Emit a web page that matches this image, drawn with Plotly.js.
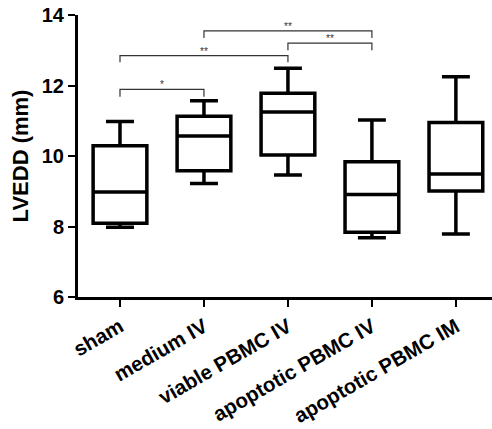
<!DOCTYPE html>
<html>
<head>
<meta charset="utf-8">
<script src="https://cdn.plot.ly/plotly-3.0.1.min.js"></script>
<style>html,body{margin:0;padding:0;background:#fff;}#chart{width:492px;height:429px;}</style>
</head>
<body>
<div id="chart"></div>
<script>
const categories = ["sham", "medium IV", "viable PBMC IV", "apoptotic PBMC IV", "apoptotic PBMC IM"];
const lowerWhisker = [7.98, 9.22, 9.46, 7.68, 7.79];
const q1Values     = [8.09, 9.58, 10.03, 7.84, 9.01];
const medianValues = [8.98, 10.57, 11.25, 8.91, 9.49];
const q3Values     = [10.29, 11.13, 11.78, 9.84, 10.95];
const upperWhisker = [10.98, 11.57, 12.49, 11.02, 12.25];

// significance brackets: [from index, to index]
const bracketPairs  = [[0, 1], [0, 2], [1, 3], [2, 3]];
const bracketTops   = [11.89, 12.85, 13.55, 13.20];
const bracketEnds   = [11.68, 12.66, 13.35, 13.00];
const bracketLabels = ["*", "**", "**", "**"];

const yTicks = [6, 8, 10, 12, 14];

const idx = categories.map((c, i) => i);
const font = {family: "Liberation Sans, Arial, sans-serif", color: "#000"};

const traces = [{
  type: "box",
  x: idx,
  q1: q1Values,
  median: medianValues,
  q3: q3Values,
  lowerfence: lowerWhisker,
  upperfence: upperWhisker,
  boxpoints: false,
  width: 0.64,
  whiskerwidth: 0.52,
  fillcolor: "rgba(255,255,255,0)",
  line: {color: "#000", width: 3.5},
  hoverinfo: "skip",
  showlegend: false
}];

const annotations = [];
bracketPairs.forEach((p, k) => {
  traces.push({
    type: "scatter",
    mode: "lines",
    x: [p[0], p[0], p[1], p[1]],
    y: [bracketEnds[k], bracketTops[k], bracketTops[k], bracketEnds[k]],
    line: {color: "#333", width: 1.2},
    hoverinfo: "skip",
    showlegend: false
  });
  annotations.push({
    xref: "x", yref: "y",
    x: (p[0] + p[1]) / 2,
    y: bracketTops[k],
    text: bracketLabels[k],
    showarrow: false,
    yanchor: "bottom",
    yshift: -3,
    font: Object.assign({}, font, {size: 10, color: "#333333"})
  });
});

const layout = {
  width: 492,
  height: 429,
  margin: {l: 78, r: 0, t: 15, b: 132},
  paper_bgcolor: "#fff",
  plot_bgcolor: "#fff",
  showlegend: false,
  annotations: annotations,
  xaxis: {
    range: [-0.5, 4.43],
    tickvals: idx,
    ticktext: categories,
    tickangle: -30,
    ticks: "outside",
    ticklen: 7,
    tickwidth: 2,
    tickcolor: "#000",
    showline: true,
    linewidth: 3,
    linecolor: "#000",
    showgrid: false,
    zeroline: false,
    tickfont: Object.assign({}, font, {size: 20.5, weight: "bold"})
  },
  yaxis: {
    range: [6, 14],
    tickvals: yTicks,
    ticks: "outside",
    ticklen: 7,
    tickwidth: 2,
    tickcolor: "#000",
    showline: true,
    linewidth: 3,
    linecolor: "#000",
    showgrid: false,
    zeroline: false,
    tickfont: Object.assign({}, font, {size: 20, weight: "bold"}),
    title: {text: "LVEDD (mm)", standoff: 8, font: Object.assign({}, font, {size: 22, weight: "bold"})}
  }
};

Plotly.newPlot("chart", traces, layout, {staticPlot: true, displayModeBar: false});
</script>
</body>
</html>
